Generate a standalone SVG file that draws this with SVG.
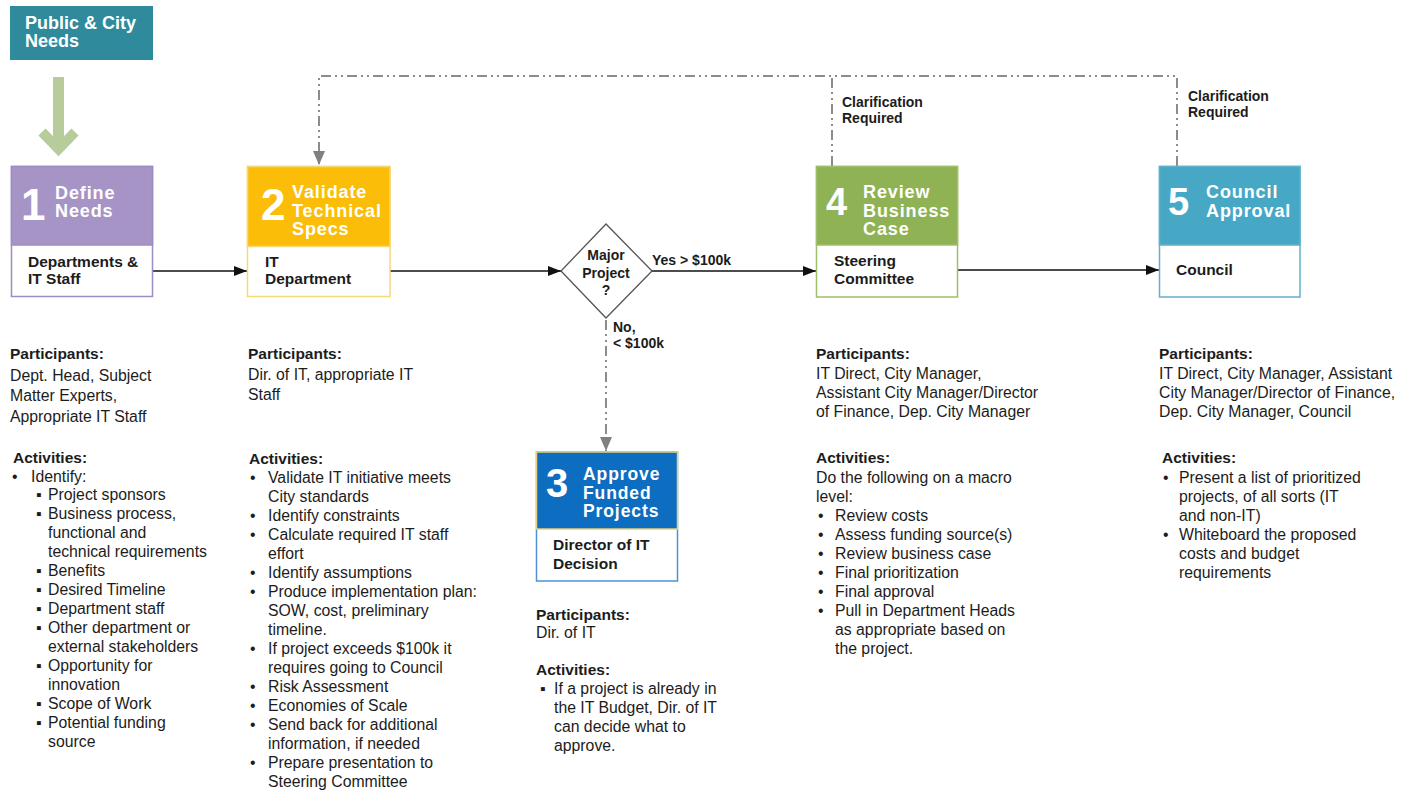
<svg xmlns="http://www.w3.org/2000/svg" width="1410" height="792" viewBox="0 0 1410 792">
<defs>
<style>
text{font-family:"Liberation Sans",Arial,sans-serif;fill:#1c1c1c}
.b{font-size:15.8px}
.h{font-size:15.5px;font-weight:bold}
.lab{font-size:15.5px;font-weight:bold}
.num{font-weight:bold;fill:#fff}
.ttl{font-size:18px;font-weight:bold;fill:#fff;letter-spacing:0.9px}
.sm{font-size:14px;font-weight:bold}
.blk{stroke:#111;stroke-width:1.6;fill:none}
.gry{stroke:#8c8c8c;stroke-width:2;fill:none;stroke-dasharray:10 4 2 4 2 4}
</style>
<marker id="ab" markerUnits="userSpaceOnUse" markerWidth="13" markerHeight="10" refX="13" refY="5" orient="auto"><path d="M0,0 L13,5 L0,10 z" fill="#111"/></marker>
<marker id="ag" markerUnits="userSpaceOnUse" markerWidth="14" markerHeight="16" refX="14" refY="6" orient="auto"><path d="M0,0 L14,6 L0,12 z" fill="#808080"/></marker>
</defs>
<rect width="1410" height="792" fill="#fff"/>

<g id="public-needs">
<rect x="10" y="6" width="143" height="54" fill="#2f8a9b"/>
<text x="25" y="29" style="font-size:18px;font-weight:bold;fill:#fff">Public &amp; City</text>
<text x="25" y="47" style="font-size:18px;font-weight:bold;fill:#fff">Needs</text>
</g>

<g id="green-arrow" fill="none" stroke="#b8cb9a">
<line x1="58.5" y1="77" x2="58.5" y2="146" stroke-width="11"/>
<polyline points="42,132 58.5,149 75,132" stroke-width="10"/>
</g>

<g id="connectors">
<line class="blk" x1="153" y1="271" x2="247" y2="271" marker-end="url(#ab)"/>
<line class="blk" x1="390" y1="271" x2="561" y2="271" marker-end="url(#ab)"/>
<line class="blk" x1="652" y1="271" x2="816" y2="271" marker-end="url(#ab)"/>
<line class="blk" x1="958" y1="270" x2="1159" y2="270" marker-end="url(#ab)"/>
<line class="gry" x1="606" y1="320" x2="606" y2="451" marker-end="url(#ag)"/>
<path class="gry" d="M1177,166 V76 H319 V165" marker-end="url(#ag)"/>
<path class="gry" d="M832,166 V76"/>
<text class="sm" x="652" y="265">Yes &gt; $100k</text>
<text class="sm" x="613" y="332">No,</text>
<text class="sm" x="613" y="348">&lt; $100k</text>
<text class="sm" x="842" y="107">Clarification</text>
<text class="sm" x="842" y="123">Required</text>
<text class="sm" x="1188" y="101">Clarification</text>
<text class="sm" x="1188" y="117">Required</text>
</g>

<g id="node1">
<rect x="11.5" y="166.5" width="141" height="130" fill="#fff" stroke="#9d8dc0" stroke-width="1.5"/>
<rect x="11.5" y="166.5" width="141" height="78.5" fill="#a694c6" stroke="#9d8dc0" stroke-width="1.5"/>
<text class="num" x="21" y="220" style="font-size:44px">1</text>
<text class="ttl" x="55" y="199">Define</text>
<text class="ttl" x="55" y="217">Needs</text>
<text class="lab" x="28" y="267">Departments &amp;</text>
<text class="lab" x="28" y="284">IT Staff</text>
</g>

<g id="node2">
<rect x="247.5" y="166.5" width="142.5" height="130" fill="#fff" stroke="#f3d97a" stroke-width="1.5"/>
<rect x="247.5" y="166.5" width="142.5" height="80" fill="#fbbd08" stroke="#f3d97a" stroke-width="1.5"/>
<text class="num" x="261" y="220" style="font-size:44px">2</text>
<text class="ttl" x="292" y="198">Validate</text>
<text class="ttl" x="292" y="216.5">Technical</text>
<text class="ttl" x="292" y="235">Specs</text>
<text class="lab" x="265" y="267">IT</text>
<text class="lab" x="265" y="284">Department</text>
</g>

<g id="decision">
<polygon points="606,224 652,271 606,318 561,271" fill="#fff" stroke="#555" stroke-width="1.3"/>
<text class="sm" x="606" y="260" text-anchor="middle">Major</text>
<text class="sm" x="606" y="278" text-anchor="middle">Project</text>
<text class="sm" x="606" y="295" text-anchor="middle">?</text>
</g>

<g id="node3">
<rect x="536.5" y="452" width="141" height="129" fill="#fff" stroke="#4d92d6" stroke-width="1.5"/>
<rect x="536.5" y="452" width="141" height="77" fill="#0d6dc0" stroke="#e6d27c" stroke-width="1.5"/>
<text class="num" x="546" y="497" style="font-size:40px">3</text>
<text class="ttl" x="583" y="480" style="font-size:17.5px">Approve</text>
<text class="ttl" x="583" y="498.5" style="font-size:17.5px">Funded</text>
<text class="ttl" x="583" y="517" style="font-size:17.5px">Projects</text>
<text class="lab" x="553" y="550">Director of IT</text>
<text class="lab" x="553" y="569">Decision</text>
</g>

<g id="node4">
<rect x="816.5" y="166.5" width="141" height="130.5" fill="#fff" stroke="#9ebf6c" stroke-width="1.5"/>
<rect x="816.5" y="166.5" width="141" height="78.5" fill="#8fb254" stroke="#9ebf6c" stroke-width="1.5"/>
<text class="num" x="826" y="215" style="font-size:38px">4</text>
<text class="ttl" x="863" y="198">Review</text>
<text class="ttl" x="863" y="216.5">Business</text>
<text class="ttl" x="863" y="235">Case</text>
<text class="lab" x="834" y="266">Steering</text>
<text class="lab" x="834" y="284">Committee</text>
</g>

<g id="node5">
<rect x="1159.5" y="166.5" width="140.5" height="130.5" fill="#fff" stroke="#62b1cb" stroke-width="1.5"/>
<rect x="1159.5" y="166.5" width="140.5" height="78.5" fill="#47a8c6" stroke="#62b1cb" stroke-width="1.5"/>
<text class="num" x="1168" y="215" style="font-size:38px">5</text>
<text class="ttl" x="1206" y="198">Council</text>
<text class="ttl" x="1206" y="216.5">Approval</text>
<text class="lab" x="1176" y="275">Council</text>
</g>

<g id="col1">
<text class="h" x="10" y="359">Participants:</text>
<text class="b" x="10" y="381">Dept. Head, Subject</text>
<text class="b" x="10" y="401">Matter Experts,</text>
<text class="b" x="10" y="422">Appropriate IT Staff</text>
<text class="h" x="13" y="463">Activities:</text>
<text class="b" x="12" y="482">•</text>
<text class="b" x="31" y="482">Identify:</text>
<g class="b">
<text x="36" y="500">▪</text><text x="48" y="500">Project sponsors</text>
<text x="36" y="519">▪</text><text x="48" y="519">Business process,</text>
<text x="48" y="538">functional and</text>
<text x="48" y="557">technical requirements</text>
<text x="36" y="576">▪</text><text x="48" y="576">Benefits</text>
<text x="36" y="595">▪</text><text x="48" y="595">Desired Timeline</text>
<text x="36" y="614">▪</text><text x="48" y="614">Department staff</text>
<text x="36" y="633">▪</text><text x="48" y="633">Other department or</text>
<text x="48" y="652">external stakeholders</text>
<text x="36" y="671">▪</text><text x="48" y="671">Opportunity for</text>
<text x="48" y="690">innovation</text>
<text x="36" y="709">▪</text><text x="48" y="709">Scope of Work</text>
<text x="36" y="728">▪</text><text x="48" y="728">Potential funding</text>
<text x="48" y="747">source</text>
</g>
</g>

<g id="col2">
<text class="h" x="248" y="359">Participants:</text>
<text class="b" x="248" y="380">Dir. of IT, appropriate IT</text>
<text class="b" x="248" y="400">Staff</text>
<text class="h" x="249" y="464">Activities:</text>
<g class="b">
<text x="250" y="483">•</text><text x="268" y="483">Validate IT initiative meets</text>
<text x="268" y="502">City standards</text>
<text x="250" y="521">•</text><text x="268" y="521">Identify constraints</text>
<text x="250" y="540">•</text><text x="268" y="540">Calculate required IT staff</text>
<text x="268" y="559">effort</text>
<text x="250" y="578">•</text><text x="268" y="578">Identify assumptions</text>
<text x="250" y="597">•</text><text x="268" y="597">Produce implementation plan:</text>
<text x="268" y="616">SOW, cost, preliminary</text>
<text x="268" y="635">timeline.</text>
<text x="250" y="654">•</text><text x="268" y="654">If project exceeds $100k it</text>
<text x="268" y="673">requires going to Council</text>
<text x="250" y="692">•</text><text x="268" y="692">Risk Assessment</text>
<text x="250" y="711">•</text><text x="268" y="711">Economies of Scale</text>
<text x="250" y="730">•</text><text x="268" y="730">Send back for additional</text>
<text x="268" y="749">information, if needed</text>
<text x="250" y="768">•</text><text x="268" y="768">Prepare presentation to</text>
<text x="268" y="787">Steering Committee</text>
</g>
</g>

<g id="col3">
<text class="h" x="536" y="620">Participants:</text>
<text class="b" x="536" y="638">Dir. of IT</text>
<text class="h" x="536" y="675">Activities:</text>
<g class="b">
<text x="540" y="694">▪</text><text x="554" y="694">If a project is already in</text>
<text x="554" y="713">the IT Budget, Dir. of IT</text>
<text x="554" y="732">can decide what to</text>
<text x="554" y="751">approve.</text>
</g>
</g>

<g id="col4">
<text class="h" x="816" y="359">Participants:</text>
<text class="b" x="816" y="379">IT Direct, City Manager,</text>
<text class="b" x="816" y="398">Assistant City Manager/Director</text>
<text class="b" x="816" y="417">of Finance, Dep. City Manager</text>
<text class="h" x="816" y="463">Activities:</text>
<g class="b">
<text x="816" y="483">Do the following on a macro</text>
<text x="816" y="502">level:</text>
<text x="818" y="521">•</text><text x="835" y="521">Review costs</text>
<text x="818" y="540">•</text><text x="835" y="540">Assess funding source(s)</text>
<text x="818" y="559">•</text><text x="835" y="559">Review business case</text>
<text x="818" y="578">•</text><text x="835" y="578">Final prioritization</text>
<text x="818" y="597">•</text><text x="835" y="597">Final approval</text>
<text x="818" y="616">•</text><text x="835" y="616">Pull in Department Heads</text>
<text x="835" y="635">as appropriate based on</text>
<text x="835" y="654">the project.</text>
</g>
</g>

<g id="col5">
<text class="h" x="1159" y="359">Participants:</text>
<text class="b" x="1159" y="379">IT Direct, City Manager, Assistant</text>
<text class="b" x="1159" y="398">City Manager/Director of Finance,</text>
<text class="b" x="1159" y="417">Dep. City Manager, Council</text>
<text class="h" x="1162" y="463">Activities:</text>
<g class="b">
<text x="1163" y="483">•</text><text x="1179" y="483">Present a list of prioritized</text>
<text x="1179" y="502">projects, of all sorts (IT</text>
<text x="1179" y="521">and non-IT)</text>
<text x="1163" y="540">•</text><text x="1179" y="540">Whiteboard the proposed</text>
<text x="1179" y="559">costs and budget</text>
<text x="1179" y="578">requirements</text>
</g>
</g>
</svg>
